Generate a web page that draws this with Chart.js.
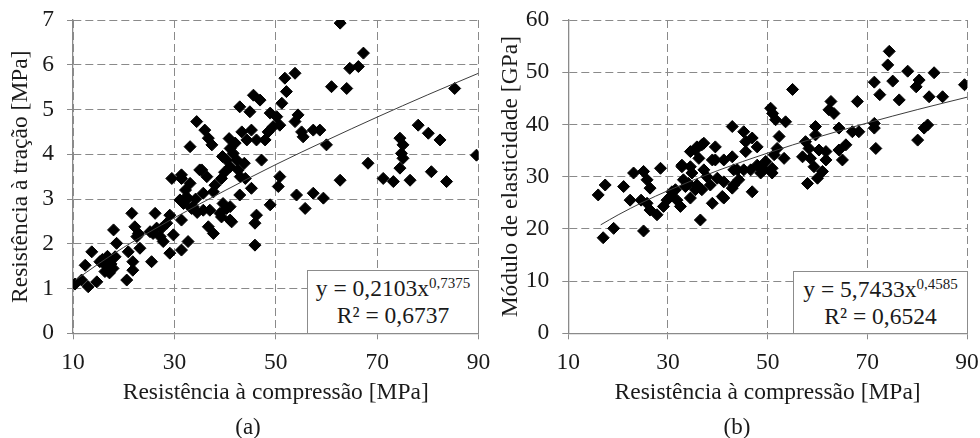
<!DOCTYPE html>
<html>
<head>
<meta charset="utf-8">
<script src="https://cdn.jsdelivr.net/npm/chart.js@4.4.1/dist/chart.umd.min.js"></script>
<style>
  body { margin: 0; background: #fff; font-family: 'Liberation Serif', 'Times New Roman', serif; color: #1a1a1a; }
  #page { position: relative; width: 980px; height: 438px; overflow: hidden; }
  canvas { position: absolute; top: 0; }
  #chartA { left: 0; }
  #chartB { left: 490px; }
  .eq { position: absolute; background: #fff; border: 1.5px solid #8c8c8c; box-sizing: border-box;
        text-align: center; font-size: 23.5px; line-height: 27px; padding-top: 4px; white-space: nowrap; }
  .eq sup { font-size: 15px; line-height: 0; vertical-align: 8px; }
  .caption { position: absolute; top: 414px; width: 60px; text-align: center; font-size: 23px; line-height: 26px; }
</style>
</head>
<body>
<div id="page">
  <canvas id="chartA" width="490" height="438"></canvas>
  <canvas id="chartB" width="490" height="438"></canvas>
  <div class="eq" style="left:307px; top:270px; width:172px; height:64px;">y = 0,2103x<sup>0,7375</sup><br>R² = 0,6737</div>
  <div class="eq" style="left:793px; top:271px; width:175px; height:63px;">y = 5,7433x<sup>0,4585</sup><br>R² = 0,6524</div>
  <div class="caption" style="left:218px;">(a)</div>
  <div class="caption" style="left:707px;">(b)</div>
</div>
<script>
// (a) compressive strength [MPa] vs tensile strength [MPa]
const compressionA = [
  10.4, 11.7, 13.0, 14.7, 12.4, 13.7, 15.3, 16.6, 17.3, 18.0,
  18.6, 18.3, 16.3, 20.6, 20.9, 21.6, 22.2, 21.8, 21.8, 23.2,
  22.9, 25.5, 25.8, 26.2, 27.2, 27.5, 27.8, 28.5, 29.1, 29.1,
  29.8, 31.4, 32.7, 31.4, 31.8, 33.7, 35.7, 37.0, 36.7, 37.7,
  39.0, 41.0, 41.0, 15.8, 16.8, 17.5, 17.9, 16.6, 17.2, 22.6,
  25.2, 26.5, 29.5, 31.4, 33.1, 32.4, 31.1, 33.4, 35.4, 36.4,
  35.7, 53.8, 51.8, 52.1, 61.0, 51.2, 45.6, 46.9, 42.9, 44.9,
  48.9, 50.2, 54.4, 53.8, 55.1, 55.4, 57.4, 58.7, 60.0, 34.4,
  36.0, 36.7, 37.4, 33.1, 43.3, 45.2, 44.3, 46.2, 47.9, 48.5,
  49.5, 50.8, 41.0, 41.6, 40.3, 42.3, 41.0, 42.6, 43.0, 44.0,
  47.2, 45.2, 50.8, 50.5, 39.3, 38.0, 37.7, 42.9, 39.6, 40.3,
  41.3, 39.3, 46.2, 45.9, 48.9, 54.1, 55.8, 57.4, 59.4, 62.7,
  62.7, 67.3, 66.3, 64.6, 64.0, 85.3, 78.1, 80.1, 82.4, 74.5,
  75.1, 74.8, 75.1, 74.5, 89.6, 68.2, 71.2, 73.2, 76.5, 80.7,
  83.7, 45.9, 39.5, 40.8, 42.0, 39.9, 43.8, 31.4, 35.0, 32.4,
  32.2, 34.2, 34.5
];
const tensileA = [
  1.10, 1.19, 1.04, 1.15, 1.52, 1.82, 1.60, 1.64, 1.49, 2.31,
  2.01, 1.71, 1.38, 1.19, 1.82, 2.68, 2.38, 1.60, 1.41, 1.90,
  2.23, 1.60, 2.23, 2.68, 2.16, 2.35, 2.05, 2.46, 2.64, 1.79,
  2.20, 1.86, 2.05, 2.53, 2.90, 2.83, 2.75, 2.75, 2.38, 2.23,
  2.68, 2.53, 2.83, 1.65, 1.72, 1.55, 1.45, 1.50, 1.35, 2.16,
  2.27, 2.35, 3.46, 3.46, 3.35, 3.05, 2.98, 2.79, 3.65, 3.50,
  3.13, 5.81, 5.70, 5.40, 5.51, 5.14, 5.32, 5.21, 5.06, 4.95,
  4.92, 4.84, 4.88, 4.73, 4.50, 4.39, 4.54, 4.54, 4.21, 4.73,
  4.54, 4.36, 4.21, 4.17, 4.50, 4.54, 4.32, 4.32, 4.32, 4.50,
  4.62, 4.65, 4.13, 4.02, 3.87, 3.87, 3.72, 3.65, 3.50, 3.46,
  3.87, 3.24, 3.50, 3.28, 3.46, 3.31, 3.16, 3.09, 2.90, 2.79,
  2.49, 2.60, 2.64, 2.46, 2.87, 3.09, 2.79, 3.13, 3.02, 3.42,
  6.93, 6.26, 5.96, 5.92, 5.47, 5.47, 4.65, 4.47, 4.32, 4.36,
  4.21, 4.02, 3.91, 3.69, 3.98, 3.80, 3.46, 3.39, 3.42, 3.61,
  3.39, 1.97, 3.95, 4.35, 4.25, 3.60, 3.80, 3.54, 3.65, 2.98,
  3.20, 3.00, 2.70
];
// power trend line of (a)
const trendXA = [10.5, 15, 20, 30, 40, 50, 60, 70, 80, 90];
const trendYA = [1.19, 1.55, 1.92, 2.58, 3.19, 3.77, 4.31, 4.83, 5.33, 5.81];

// (b) compressive strength [MPa] vs modulus of elasticity [GPa]
const compressionB = [
  42.9, 17.4, 16.0, 21.1, 23.1, 25.1, 25.8, 28.5, 22.4, 24.6,
  26.4, 26.4, 25.8, 27.8, 29.8, 29.1, 30.8, 31.8, 32.5, 33.1,
  32.8, 34.5, 35.5, 36.8, 36.2, 37.2, 34.8, 34.1, 35.5, 34.5,
  36.5, 38.9, 39.5, 39.5, 41.2, 42.9, 39.9, 38.5, 41.2, 42.9,
  37.8, 41.2, 17.0, 19.1, 25.1, 55.0, 62.7, 62.3, 68.0, 71.4,
  72.5, 50.6, 51.0, 51.6, 53.6, 45.2, 46.9, 47.9, 45.6, 45.6,
  52.3, 51.9, 51.3, 53.3, 49.6, 47.9, 49.2, 50.9, 50.9, 48.6,
  46.6, 45.2, 44.2, 43.2, 46.9, 43.9, 57.6, 59.6, 59.6, 58.3,
  57.0, 58.6, 60.3, 61.7, 61.7, 59.3, 61.0, 60.0, 58.0, 64.3,
  63.3, 67.0, 68.3, 71.4, 71.4, 65.7, 64.3, 65.0, 71.7, 74.4,
  74.1, 78.1, 83.4, 89.5, 75.1, 80.4, 79.8, 76.4, 82.4, 85.1,
  82.1, 81.4, 80.1, 34.5, 37.2, 35.8, 38.9, 32.8, 33.5, 36.8,
  40.9, 30.5, 31.5, 35.8, 43.2
];
const modulusB = [
  39.6, 28.4, 26.5, 28.1, 30.7, 31.0, 29.4, 31.6, 25.5, 25.5,
  23.6, 27.8, 24.9, 22.7, 25.5, 24.3, 27.1, 25.5, 24.3, 29.4,
  32.2, 34.8, 35.1, 36.1, 33.5, 31.3, 30.7, 28.7, 27.5, 25.9,
  21.7, 24.9, 35.7, 33.2, 33.2, 33.8, 29.7, 28.4, 25.9, 27.8,
  30.0, 29.0, 18.3, 20.1, 19.6, 46.7, 44.4, 42.8, 44.4, 48.1,
  45.7, 43.1, 42.1, 40.9, 40.5, 38.6, 37.4, 35.7, 36.7, 34.8,
  37.7, 35.4, 34.2, 33.5, 32.9, 32.2, 31.3, 31.6, 30.7, 30.7,
  31.3, 31.3, 29.4, 28.4, 27.1, 31.3, 36.7, 39.6, 38.0, 35.4,
  33.8, 33.5, 35.1, 34.8, 33.2, 31.9, 31.0, 29.7, 28.7, 39.3,
  42.1, 38.6, 38.6, 40.2, 39.3, 36.1, 35.1, 33.2, 35.4, 54.0,
  51.4, 50.2, 49.9, 47.6, 48.3, 48.5, 47.2, 44.7, 45.3, 45.3,
  39.9, 39.3, 37.0, 31.9, 36.4, 35.7, 33.2, 31.9, 28.1, 27.5,
  26.2, 26.2, 27.5, 28.4, 31.3
];
const trendXB = [16.5, 20, 25, 30, 40, 50, 60, 70, 80, 90];
const trendYB = [20.77, 22.68, 25.13, 27.32, 31.17, 34.52, 37.54, 40.28, 42.83, 45.21];

const fontFamily = "'Liberation Serif', 'Times New Roman', serif";
const textColor = '#1a1a1a';
const gridColor = '#8a8a8a';
const textSize = 23.5;

function pairs(xs, ys) {
  return xs.map((x, i) => ({ x: x, y: ys[i] }));
}

// keep tick-label overhang from pushing the plot area in
function noOverhang(scale) {
  scale.paddingTop = 0;
  scale.paddingBottom = 0;
  scale.paddingLeft = 0;
  scale.paddingRight = 0;
}

function makeChart(id, xs, ys, tx, ty, yMax, yStep, yTitle, axisLeft, padRight) {
  const ctx = document.getElementById(id).getContext('2d');
  return new Chart(ctx, {
    type: 'scatter',
    data: {
      datasets: [{
        data: pairs(tx, ty),
        showLine: true,
        borderColor: '#3c3c3c',
        borderWidth: 1,
        pointRadius: 0,
        cubicInterpolationMode: 'monotone',
        order: 0
      }, {
        data: pairs(xs, ys),
        pointStyle: 'rectRot',
        pointRadius: 6,
        backgroundColor: '#000',
        borderColor: '#000',
        borderWidth: 1,
        order: 1
      }]
    },
    options: {
      responsive: false,
      animation: false,
      events: [],
      layout: { padding: { top: 20, right: padRight, left: 0, bottom: 0 } },
      plugins: { legend: { display: false }, tooltip: { enabled: false } },
      scales: {
        x: {
          type: 'linear',
          min: 10,
          max: 90,
          ticks: { stepSize: 20, color: textColor, padding: 9, font: { family: fontFamily, size: textSize } },
          grid: { color: gridColor, lineWidth: 1, tickLength: 6, tickColor: gridColor },
          border: { color: gridColor, width: 1.3, dash: [8, 4] },
          title: { display: true, text: 'Resistência à compressão [MPa]', color: textColor,
                   font: { family: fontFamily, size: textSize }, padding: { top: 0, bottom: 31 } },
          afterFit: function (scale) { scale.height = 104.7; noOverhang(scale); }
        },
        y: {
          min: 0,
          max: yMax,
          ticks: { stepSize: yStep, color: textColor, padding: 13, font: { family: fontFamily, size: textSize } },
          grid: { color: gridColor, lineWidth: 1, tickLength: 6, tickColor: gridColor },
          border: { color: gridColor, width: 1.3, dash: [8, 4] },
          title: { display: true, text: yTitle, color: textColor,
                   font: { family: fontFamily, size: textSize }, padding: { top: 7, bottom: 0 } },
          afterFit: function (scale) { scale.width = axisLeft; noOverhang(scale); }
        }
      }
    }
  });
}

makeChart('chartA', compressionA, tensileA, trendXA, trendYA, 7, 1, 'Resistência à tração [MPa]', 73, 11.5);
makeChart('chartB', compressionB, modulusB, trendXB, trendYB, 60, 10, 'Módulo de elasticidade [GPa]', 78.3, 13);
</script>
</body>
</html>
